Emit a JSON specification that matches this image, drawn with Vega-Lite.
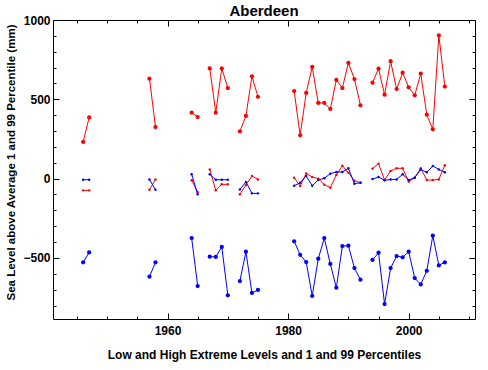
{
  "$schema": "https://vega.github.io/schema/vega-lite/v6.json",
  "width": 422,
  "height": 299,
  "autosize": {"type": "none"},
  "padding": {"left": 53, "top": 20, "right": 13, "bottom": 51},
  "title": {"text": "Aberdeen", "frame": "group", "fontSize": 15, "font": "Liberation Sans", "fontWeight": "bold", "anchor": "middle", "offset": -17, "baseline": "alphabetic", "color": "black"},
  "config": {
    "view": {"stroke": "black", "strokeWidth": 1},
    "axis": {"domain": false, "grid": false, "labelFont": "Liberation Sans", "labelFontSize": 12, "labelFontWeight": "bold", "labelColor": "black", "tickColor": "black", "tickWidth": 1, "titleFont": "Liberation Sans", "titleFontSize": 12, "titleFontWeight": "bold", "titleColor": "black"}
  },
  "data": {"values": [
    {"year": 1946, "seg": "a", "high": 231, "high_pct": -74, "low_pct": -7, "low": -528},
    {"year": 1947, "seg": "a", "high": 386, "high_pct": -74, "low_pct": -7, "low": -465},
    {"year": 1957, "seg": "b", "high": 630, "high_pct": -70, "low_pct": -5, "low": -618},
    {"year": 1958, "seg": "b", "high": 325, "high_pct": -5, "low_pct": -70, "low": -528},
    {"year": 1964, "seg": "c", "high": 416, "high_pct": -10, "low_pct": 27, "low": -375},
    {"year": 1965, "seg": "c", "high": 388, "high_pct": -85, "low_pct": -99, "low": -677},
    {"year": 1967, "seg": "d", "high": 695, "high_pct": 58, "low_pct": 27, "low": -492},
    {"year": 1968, "seg": "d", "high": 416, "high_pct": -74, "low_pct": -7, "low": -494},
    {"year": 1969, "seg": "d", "high": 695, "high_pct": -36, "low_pct": -7, "low": -431},
    {"year": 1970, "seg": "d", "high": 571, "high_pct": -36, "low_pct": -7, "low": -736},
    {"year": 1972, "seg": "e", "high": 298, "high_pct": -99, "low_pct": -68, "low": -646},
    {"year": 1973, "seg": "e", "high": 395, "high_pct": -40, "low_pct": -21, "low": -461},
    {"year": 1974, "seg": "e", "high": 645, "high_pct": 16, "low_pct": -93, "low": -721},
    {"year": 1975, "seg": "e", "high": 516, "high_pct": -5, "low_pct": -93, "low": -702},
    {"year": 1981, "seg": "f", "high": 552, "high_pct": 6, "low_pct": -45, "low": -395},
    {"year": 1982, "seg": "f", "high": 273, "high_pct": -47, "low_pct": -26, "low": -480},
    {"year": 1983, "seg": "f", "high": 540, "high_pct": 33, "low_pct": 16, "low": -526},
    {"year": 1984, "seg": "f", "high": 704, "high_pct": 10, "low_pct": -45, "low": -740},
    {"year": 1985, "seg": "f", "high": 477, "high_pct": 0, "low_pct": -9, "low": -505},
    {"year": 1986, "seg": "f", "high": 477, "high_pct": -38, "low_pct": 2, "low": -375},
    {"year": 1987, "seg": "f", "high": 439, "high_pct": -57, "low_pct": 31, "low": -538},
    {"year": 1988, "seg": "f", "high": 622, "high_pct": 23, "low_pct": 42, "low": -688},
    {"year": 1989, "seg": "f", "high": 571, "high_pct": 81, "low_pct": 42, "low": -425},
    {"year": 1990, "seg": "f", "high": 729, "high_pct": 37, "low_pct": 65, "low": -423},
    {"year": 1991, "seg": "f", "high": 628, "high_pct": -13, "low_pct": -32, "low": -564},
    {"year": 1992, "seg": "f", "high": 462, "high_pct": -26, "low_pct": -26, "low": -637},
    {"year": 1994, "seg": "g", "high": 605, "high_pct": 63, "low_pct": -3, "low": -513},
    {"year": 1995, "seg": "g", "high": 693, "high_pct": 94, "low_pct": 10, "low": -467},
    {"year": 1996, "seg": "g", "high": 529, "high_pct": -9, "low_pct": -11, "low": -791},
    {"year": 1997, "seg": "g", "high": 740, "high_pct": 48, "low_pct": -5, "low": -564},
    {"year": 1998, "seg": "g", "high": 565, "high_pct": 65, "low_pct": -5, "low": -488},
    {"year": 1999, "seg": "g", "high": 668, "high_pct": 65, "low_pct": 27, "low": -496},
    {"year": 2000, "seg": "g", "high": 576, "high_pct": -19, "low_pct": -9, "low": -461},
    {"year": 2001, "seg": "g", "high": 525, "high_pct": 6, "low_pct": 6, "low": -627},
    {"year": 2002, "seg": "g", "high": 662, "high_pct": 65, "low_pct": 58, "low": -667},
    {"year": 2003, "seg": "g", "high": 403, "high_pct": -9, "low_pct": 40, "low": -581},
    {"year": 2004, "seg": "g", "high": 311, "high_pct": -9, "low_pct": 79, "low": -360},
    {"year": 2005, "seg": "g", "high": 903, "high_pct": -5, "low_pct": 58, "low": -547},
    {"year": 2006, "seg": "g", "high": 580, "high_pct": 84, "low_pct": 40, "low": -528}
  ]},
  "resolve": {"axis": {"x": "independent", "y": "independent"}},
  "layer": [
    {
      "mark": {"type": "line", "color": "#ff0000", "strokeWidth": 1, "point": {"filled": true, "size": 18, "color": "#ff0000"}},
      "encoding": {
        "x": {"field": "year", "type": "quantitative", "scale": {"domain": [1941, 2011], "nice": false, "zero": false},
              "axis": {"orient": "bottom", "values": [1960, 1980, 2000], "format": "d", "tickSize": -6, "labelPadding": 12, "title": "Low and High Extreme Levels and 1 and 99 Percentiles", "titlePadding": 13}},
        "y": {"field": "high", "type": "quantitative", "scale": {"domain": [-885, 1000], "nice": false, "zero": false},
              "axis": {"orient": "left", "values": [-500, 0, 500, 1000], "format": "d", "tickSize": -6, "labelPadding": 9, "title": "Sea Level above Average 1 and 99 Percentile (mm)", "titleFontSize": 11.5, "titlePadding": 6, "titleY": 142}},
        "detail": {"field": "seg"}
      }
    },
    {
      "mark": {"type": "line", "color": "#ff0000", "strokeWidth": 1, "point": {"filled": true, "size": 6, "color": "#ff0000"}},
      "encoding": {
        "x": {"field": "year", "type": "quantitative", "scale": {"domain": [1941, 2011], "nice": false, "zero": false},
              "axis": {"orient": "bottom", "values": [1945, 1950, 1955, 1965, 1970, 1975, 1985, 1990, 1995, 2005, 2010], "tickSize": -3, "labels": false, "title": null}},
        "y": {"field": "high_pct", "type": "quantitative", "scale": {"domain": [-885, 1000], "nice": false, "zero": false},
              "axis": {"orient": "left", "values": [-800, -700, -600, -400, -300, -200, -100, 100, 200, 300, 400, 600, 700, 800, 900], "tickSize": -3, "labels": false, "title": null}},
        "detail": {"field": "seg"}
      }
    },
    {
      "mark": {"type": "line", "color": "#0000ff", "strokeWidth": 1, "point": {"filled": true, "size": 6, "color": "#0000ff"}},
      "encoding": {
        "x": {"field": "year", "type": "quantitative", "scale": {"domain": [1941, 2011], "nice": false, "zero": false},
              "axis": {"orient": "top", "values": [1960, 1980, 2000], "tickSize": -6, "labels": false, "title": null}},
        "y": {"field": "low_pct", "type": "quantitative", "scale": {"domain": [-885, 1000], "nice": false, "zero": false},
              "axis": {"orient": "right", "values": [-500, 0, 500, 1000], "tickSize": -6, "labels": false, "title": null}},
        "detail": {"field": "seg"}
      }
    },
    {
      "mark": {"type": "line", "color": "#0000ff", "strokeWidth": 1, "point": {"filled": true, "size": 18, "color": "#0000ff"}},
      "encoding": {
        "x": {"field": "year", "type": "quantitative", "scale": {"domain": [1941, 2011], "nice": false, "zero": false},
              "axis": {"orient": "top", "values": [1945, 1950, 1955, 1965, 1970, 1975, 1985, 1990, 1995, 2005, 2010], "tickSize": -3, "labels": false, "title": null}},
        "y": {"field": "low", "type": "quantitative", "scale": {"domain": [-885, 1000], "nice": false, "zero": false},
              "axis": {"orient": "right", "values": [-800, -700, -600, -400, -300, -200, -100, 100, 200, 300, 400, 600, 700, 800, 900], "tickSize": -3, "labels": false, "title": null}},
        "detail": {"field": "seg"}
      }
    }
  ]
}
